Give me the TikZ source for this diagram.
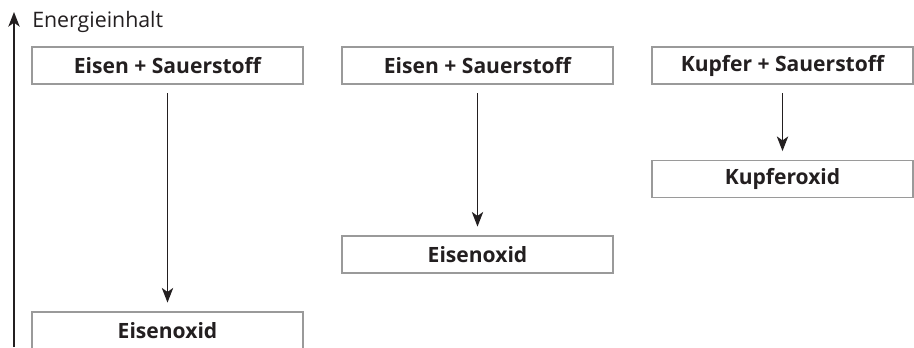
\documentclass[tikz,border=0pt]{standalone}
\usepackage{fontspec}
\setmainfont{Open Sans}
\usetikzlibrary{arrows.meta}
\definecolor{txt}{HTML}{231F20}
\definecolor{frame}{HTML}{9A9A9A}
\tikzset{
  px/.style={x=0.75pt,y=-0.75pt},
  level/.style={draw=frame, line width=1.1pt, fill=white, inner sep=0pt,
    minimum height=27.75pt, text=txt, font=\bfseries\fontsize{15.8}{18}\selectfont},
  wide/.style={minimum width=203.25pt},
  narrow/.style={minimum width=195.75pt},
  react/.style={draw=txt, line width=1.1pt, -{Stealth[length=11pt,width=8.5pt,inset=3pt]},
    shorten <=6.5pt, shorten >=6.5pt},
  axis/.style={draw=txt, line width=1.1pt, -{Stealth[length=11pt,width=8.5pt,inset=3pt]}}
}
\begin{document}
\begin{tikzpicture}[px]
\clip (0,0) rectangle (914,347);
\fill[white] (0,0) rectangle (914,347);
% axis
\coordinate (ax0) at (14,347);
\coordinate (ax1) at (14,12);
\draw[axis] (ax0) -- (ax1);
\node[anchor=base west, inner sep=0pt, text=txt, font=\fontsize{16}{18}\selectfont] (lab) at (32,27) {Energieinhalt};
% column 1
\node[level, wide] (a1) at (167.5,65.5) {Eisen + Sauerstoff};
\node[level, wide] (a2) at (167.5,330.5) {Eisenoxid};
\draw[react] (a1) -- (a2);
% column 2
\node[level, wide] (b1) at (477.5,65.5) {Eisen + Sauerstoff};
\node[level, wide] (b2) at (477.5,254.5) {Eisenoxid};
\draw[react] (b1) -- (b2);
% column 3
\node[level, narrow] (c1) at (782.5,65.5) {Kupfer + Sauerstoff};
\node[level, narrow] (c2) at (782.5,179) {Kupferoxid};
\draw[react] (c1) -- (c2);
\end{tikzpicture}
\end{document}
